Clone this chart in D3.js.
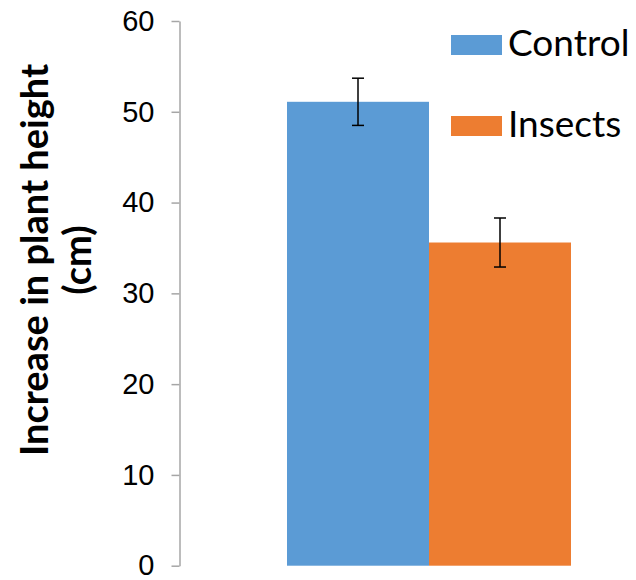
<!DOCTYPE html>
<html><head><meta charset="utf-8">
<script src="https://cdn.jsdelivr.net/npm/d3@7"></script>
<style>body{margin:0;background:#fff}svg{display:block}</style>
</head><body>
<script>
const series = ["Control", "Insects"];
const values = [51.1, 35.6];
const errors = [2.6, 2.7];
const colors = ["#5B9BD5", "#ED7D31"];
const yTicks = [0, 10, 20, 30, 40, 50, 60];
const yTitle = ["Increase in plant height", "(cm)"];

const W = 636, H = 580;
const svg = d3.select("body").append("svg").attr("width", W).attr("height", H);

const y = d3.scaleLinear().domain([0, 60]).range([565.7, 21]);
const x = d3.scaleBand().domain(series).range([287, 571]).paddingInner(0).paddingOuter(0);

// bars
svg.selectAll("rect.bar").data(series).join("rect")
  .attr("x", d => x(d)).attr("width", x.bandwidth())
  .attr("y", (d, i) => y(values[i])).attr("height", (d, i) => y(0) - y(values[i]))
  .attr("fill", (d, i) => colors[i]);

// error bars
const eg = svg.append("g").attr("stroke", "#000").attr("stroke-width", 1.5);
series.forEach((s, i) => {
  const cx = x(s) + x.bandwidth() / 2;
  eg.append("line").attr("x1", cx).attr("x2", cx).attr("y1", y(values[i] + errors[i])).attr("y2", y(values[i] - errors[i]));
  eg.append("line").attr("x1", cx - 6).attr("x2", cx + 6).attr("y1", y(values[i] + errors[i])).attr("y2", y(values[i] + errors[i]));
  eg.append("line").attr("x1", cx - 6).attr("x2", cx + 6).attr("y1", y(values[i] - errors[i])).attr("y2", y(values[i] - errors[i]));
});

// y axis
const ax = svg.append("g").attr("transform", "translate(179.5,0)")
  .call(d3.axisLeft(y).tickValues(yTicks).tickSize(8).tickPadding(17).tickSizeOuter(0));
ax.select(".domain").attr("stroke", "#a6a6a6").attr("stroke-width", 1.5);
ax.selectAll(".tick line").attr("stroke", "#a6a6a6").attr("stroke-width", 1.5);
ax.selectAll(".tick text").attr("font-family", "'Liberation Sans', Arial, sans-serif")
  .attr("font-size", 29).attr("fill", "#000");

// y title
const t = svg.append("text").attr("transform", "translate(0,260) rotate(-90)")
  .attr("text-anchor", "middle").attr("font-family", "Lato, 'Open Sans', sans-serif")
  .attr("font-weight", "bold").attr("font-size", 38).attr("fill", "#000");
t.append("tspan").attr("x", 0).attr("y", 48).text(yTitle[0]);
t.append("tspan").attr("x", 0).attr("y", 91).text(yTitle[1]);

// legend
const leg = svg.append("g");
series.forEach((s, i) => {
  const g = leg.append("g").attr("transform", `translate(451,${35 + i * 81})`);
  g.append("rect").attr("width", 51).attr("height", 20).attr("fill", colors[i]);
  g.append("text").attr("x", 57).attr("y", 21).attr("font-family", "Lato, 'Open Sans', sans-serif")
    .attr("font-size", 37).attr("fill", "#000").text(s);
});
</script>
</body></html>
